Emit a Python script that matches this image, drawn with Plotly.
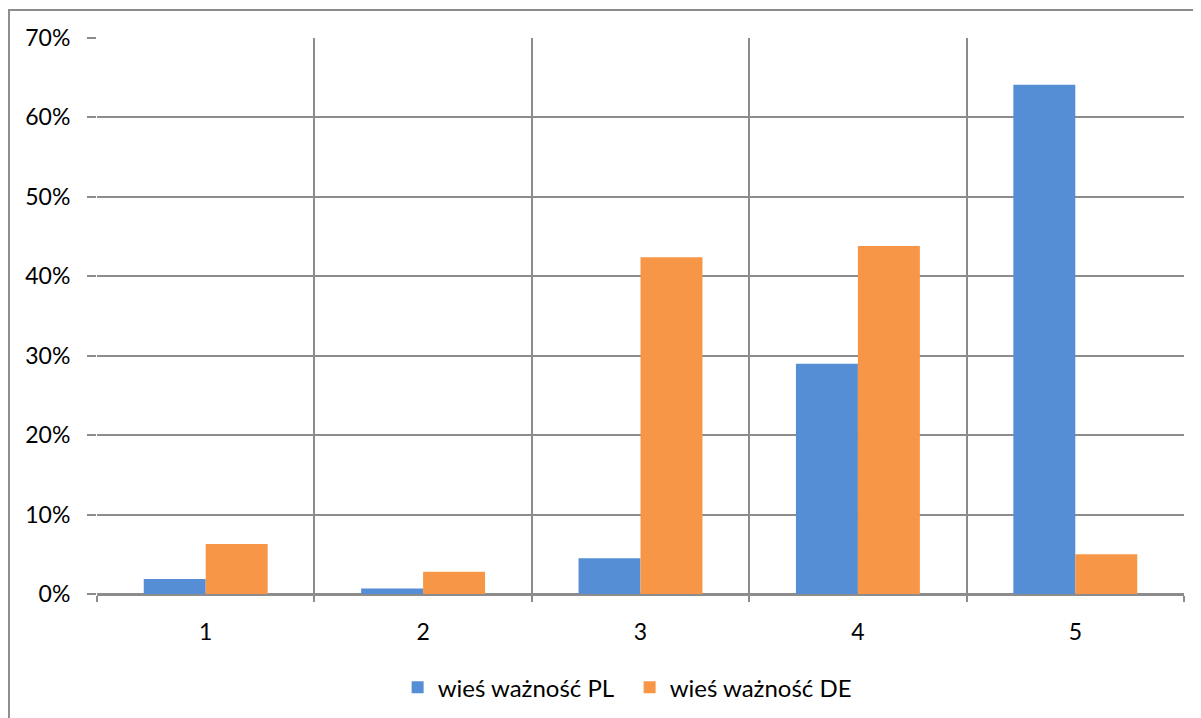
import plotly.graph_objects as go

categories = ["1", "2", "3", "4", "5"]
pl_values = [0.019, 0.007, 0.045, 0.290, 0.641]
de_values = [0.063, 0.028, 0.424, 0.438, 0.050]
series_names = ["wieś ważność PL", "wieś ważność DE"]
series_colors = ["#558ed5", "#f79646"]
y_ticks = [0, 0.1, 0.2, 0.3, 0.4, 0.5, 0.6, 0.7]
y_tick_labels = ["0%", "10%", "20%", "30%", "40%", "50%", "60%", "70%"]

FONT = "Lato, 'Open Sans', sans-serif"
GRID = "#8c8c8c"

fig = go.Figure()
for vals, name, col in zip([pl_values, de_values], series_names, series_colors):
    fig.add_trace(go.Bar(x=categories, y=vals, name=name, showlegend=False,
                         marker=dict(color=col, line=dict(width=0))))
# legend entries with larger square swatches
for name, col in zip(series_names, series_colors):
    fig.add_trace(go.Scatter(x=[None], y=[None], mode="markers", name=name,
                             marker=dict(symbol="square", size=16, color=col)))

fig.update_layout(
    width=1193, height=710,
    margin=dict(l=89, r=17, t=30, b=124, autoexpand=False),
    paper_bgcolor="white", plot_bgcolor="white",
    barmode="group", bargap=0.43, bargroupgap=0,
    font=dict(family=FONT, size=23, color="#000000"),
    showlegend=True,
    legend=dict(orientation="h", x=0.49, xanchor="center", y=-0.128, yanchor="top",
                font=dict(size=24), itemsizing="constant", traceorder="normal",
                itemwidth=30, entrywidth=187),
    xaxis=dict(type="category", tickson="boundaries", showgrid=True, gridcolor=GRID,
               gridwidth=2, ticks="outside", ticklen=6, tickcolor=GRID, tickwidth=2,
               showline=True, linecolor=GRID, linewidth=2, mirror=False,
               tickfont=dict(size=23), ticklabelstandoff=16, automargin=False),
    yaxis=dict(range=[0, 0.7], tickvals=y_ticks, ticktext=y_tick_labels,
               showgrid=True, gridcolor=GRID, gridwidth=2, zeroline=True,
               zerolinecolor=GRID, zerolinewidth=2, ticks="outside", ticklen=9,
               tickcolor=GRID, tickwidth=2, showline=False,
               tickfont=dict(size=23), ticklabelstandoff=12, automargin=False),
)

# outer chart-area border (partially visible in the reference)
fig.add_shape(type="rect", xref="paper", yref="paper",
              x0=-0.081, x1=1.0138, y0=-0.24, y1=1.0504,
              line=dict(color="#8c8c8c", width=2), fillcolor="rgba(0,0,0,0)", layer="below")

fig.write_html("out.html")
